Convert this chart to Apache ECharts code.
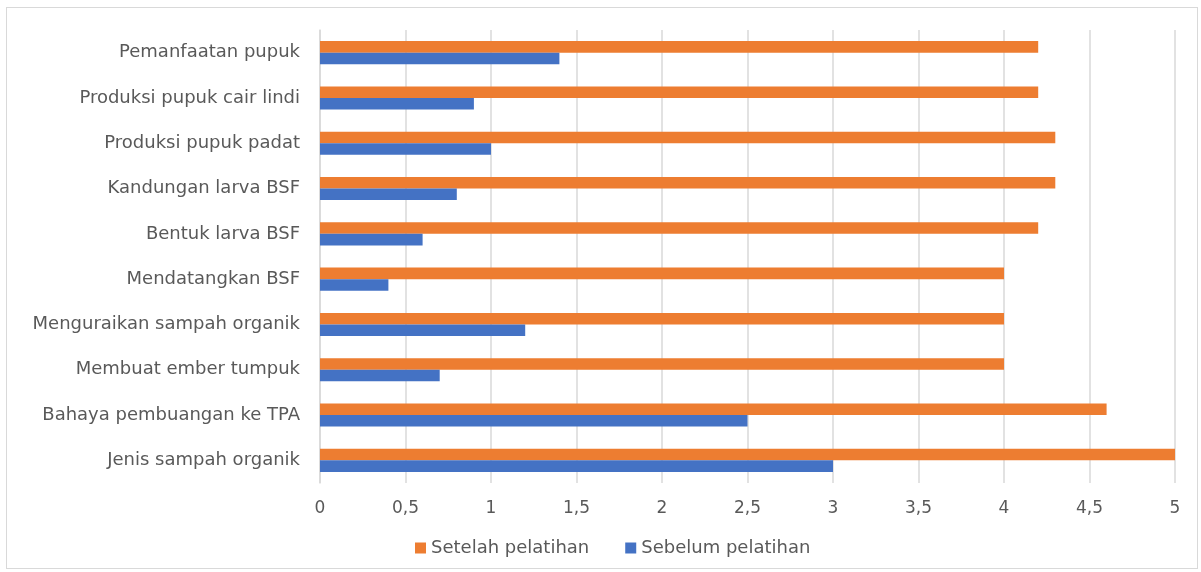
<!DOCTYPE html>
<html>
<head>
<meta charset="utf-8">
<script src="https://cdn.jsdelivr.net/npm/echarts@6/dist/echarts.min.js"></script>
<style>
  html, body { margin: 0; padding: 0; background: #fff; }
  #chart { width: 1201px; height: 572px; }
  #frame { position: absolute; left: 6px; top: 7px; width: 1190px; height: 560px; border: 1px solid #d9d9d9; pointer-events: none; }
</style>
</head>
<body>
<div id="chart"></div>
<div id="frame"></div>
<script>
//Données
const categories = [
  'Jenis sampah organik',
  'Bahaya pembuangan ke TPA',
  'Membuat ember tumpuk',
  'Menguraikan sampah organik',
  'Mendatangkan BSF',
  'Bentuk larva BSF',
  'Kandungan larva BSF',
  'Produksi pupuk padat',
  'Produksi pupuk cair lindi',
  'Pemanfaatan pupuk'
];
const sebelum = [3, 2.5, 0.7, 1.2, 0.4, 0.6, 0.8, 1.0, 0.9, 1.4];
const setelah = [5, 4.6, 4, 4, 4, 4.2, 4.3, 4.3, 4.2, 4.2];
const xTicks = [0, 0.5, 1, 1.5, 2, 2.5, 3, 3.5, 4, 4.5, 5];

const font = '"DejaVu Sans", sans-serif';
const chart = echarts.init(document.getElementById('chart'));

chart.setOption({
  backgroundColor: '#fff',
  animation: false,
  textStyle: { fontFamily: font },
  grid: { left: 320, right: 26, top: 30, bottom: 89 },
  legend: {
    data: ['Setelah pelatihan', 'Sebelum pelatihan'],
    bottom: 10,
    left: 410,
    itemWidth: 11,
    itemHeight: 11,
    itemGap: 36,
    icon: 'rect',
    textStyle: { color: '#595959', fontSize: 18, fontFamily: font }
  },
  xAxis: {
    type: 'value',
    min: 0,
    max: 5,
    interval: 0.5,
    axisLine: { show: false },
    axisTick: { show: false },
    splitLine: { lineStyle: { color: '#d9d9d9', width: 1.5 } },
    axisLabel: {
      color: '#595959',
      fontSize: 17,
      margin: 17,
      formatter: v => String(v).replace('.', ',')
    }
  },
  yAxis: {
    type: 'category',
    data: categories,
    axisLine: { show: true, lineStyle: { color: '#d9d9d9', width: 1.5 } },
    axisTick: { show: false },
    axisLabel: { color: '#595959', fontSize: 18, margin: 20 }
  },
  series: [
    {
      name: 'Setelah pelatihan',
      type: 'bar',
      data: setelah,
      barGap: '0%',
      barCategoryGap: '49%',
      itemStyle: { color: '#ED7D31' }
    },
    {
      name: 'Sebelum pelatihan',
      type: 'bar',
      data: sebelum,
      barGap: '0%',
      barCategoryGap: '49%',
      itemStyle: { color: '#4472C4' }
    }
  ]
});
</script>
</body>
</html>
